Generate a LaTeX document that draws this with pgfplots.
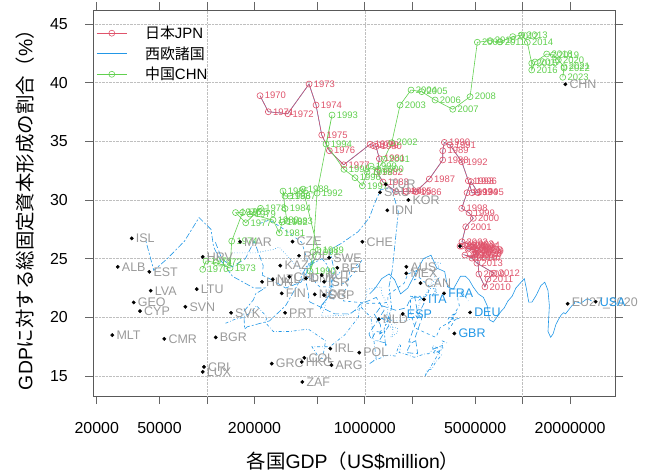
\documentclass[border=0pt]{standalone}
\usepackage{pgfplots}
\pgfplotsset{compat=1.18}
\usepackage{pgfplotstable}
\usepackage{fontspec}
\setmainfont{Liberation Sans}
\newfontfamily\cjk{Noto Sans CJK JP}
\definecolor{jpred}{HTML}{DF536B}
\definecolor{wblue}{HTML}{2297E6}
\definecolor{cngreen}{HTML}{61D04F}
\definecolor{lblgray}{HTML}{9A9A9A}

\pgfplotstableread{
x y lab
216700 38.89 1970
244600 37.52 1971
324700 37.35 1972
443100 39.88 1973
490700 38.09 1974
533200 35.54 1975
595700 34.20 1976
735000 33.00 1977
1079000 34.74 1978
1127000 34.64 1979
1178000 34.56 1980
1236000 33.52 1981
1195000 32.38 1982
1304000 31.53 1983
1576000 30.72 1984
1824000 30.72 1985
2102000 30.70 1986
2563000 31.79 1987
3116000 33.41 1988
3116000 34.20 1989
3190000 34.91 1990
3466000 34.68 1991
4112000 33.26 1992
4529000 31.64 1993
4779000 30.62 1994
5217000 30.62 1995
4710000 31.56 1996
4443000 30.62 1997
4112000 29.29 1998
4573000 28.91 1999
4869000 28.44 2000
4359000 27.72 2001
4124000 26.44 2002
4502000 26.27 2003
4914000 26.16 2004
4842000 25.99 2005
4567000 25.90 2006
4502000 25.82 2007
5132000 25.73 2008
5284000 23.69 2009
5768000 22.60 2010
6027000 23.26 2011
6579000 23.77 2012
5132000 24.62 2013
4771000 25.05 2014
4309000 25.31 2015
4986000 25.14 2016
4914000 25.31 2017
5060000 25.48 2018
5208000 25.65 2019
5060000 25.39 2020
4986000 25.73 2021
4124000 26.07 2022
4013000 26.07 2023
}\jpn

\pgfplotstableread{
x y lab
93910 24.09 1970
98560 24.80 1971
114000 24.67 1972
139900 24.20 1973
143400 26.50 1974
167900 28.93 1975
151600 28.93 1976
175900 28.06 1977
218300 29.29 1978
187300 28.80 1979
262000 28.29 1980
287200 27.21 1981
298800 28.12 1982
321400 28.21 1983
312100 29.27 1984
303100 30.76 1985
312100 30.34 1986
335700 30.34 1987
405900 30.93 1988
505200 25.73 1989
449400 23.94 1990
469500 25.56 1991
497900 30.59 1992
619700 37.24 1993
567700 34.77 1994
738100 32.61 1995
866800 31.90 1996
964100 31.21 1997
1032000 32.38 1998
1095000 32.89 1999
1213000 32.61 2000
1323000 33.47 2001
1481000 34.88 2002
1672000 38.09 2003
1963000 39.37 2004
2294000 39.23 2005
2786000 38.52 2006
3607000 37.73 2007
4643000 38.80 2008
5163000 43.44 2009
6214000 43.58 2010
7192000 43.47 2011
8655000 43.92 2012
9870000 44.06 2013
10710000 43.44 2014
11420000 41.65 2015
11420000 41.08 2016
11980000 41.76 2017
14210000 42.44 2018
15650000 42.36 2019
16840000 41.93 2020
18300000 41.36 2021
18300000 41.25 2022
17960000 40.46 2023
}\chn

\pgfplotstableread{
x y lab
33320 26.73 ISL
27180 24.31 ALB
43100 23.88 EST
43980 22.27 LVA
34320 21.27 GEO
37620 20.53 CYP
25110 18.49 MLT
53620 18.17 CMR
72870 20.90 SVN
86050 22.41 LTU
93910 25.16 HRV
113540 18.29 BGR
95720 15.78 CRI
93910 15.36 LUX
141930 20.39 SVK
161850 26.44 MAR
348200 26.46 CZE
291400 24.41 KAZ
223200 23.03 HUN
260900 23.24 NZL
332300 23.46 CHL
382800 25.25 ROU
424100 23.32 DNK
533300 23.60 AUT
551500 23.03 ISR
594300 25.08 SWE
669600 24.22 BEL
964400 26.44 CHE
297400 22.04 FIN
481600 21.96 NOR
551500 21.90 SGP
312100 20.39 PRT
604400 17.34 IRL
921600 17.00 POL
413700 16.55 COL
398300 16.21 HKG
614200 15.93 ARG
257000 16.06 GRC
401800 14.50 ZAF
1832000 24.31 AUS
1832000 23.75 MEX
2254000 22.92 CAN
1225000 19.83 NLD
19310000 21.16 EU27\_2020
1389000 29.12 IDN
1887000 30.00 KOR
1357000 31.33 TUR
1248000 30.65 SAU
18640000 39.86 CHN
}\dots

\pgfplotstableread{
x y lab
3177000 22.04 FRA
2372000 21.53 ITA
1739000 20.30 ESP
4643000 20.42 DEU
3692000 18.63 GBR
29060000 21.33 USA
}\wdots

\begin{document}
\begin{tikzpicture}
\useasboundingbox (0,0) rectangle (649bp,473bp);
\begin{axis}[
  at={(93.3bp,77bp)}, anchor=south west,
  scale only axis, width=521.7bp, height=386bp,
  xmode=log, xmin=19030, xmax=3.85e7, ymin=13.3, ymax=46.19,
  clip=false,
  axis line style={black!65, line width=0.8bp},
  tick style={black!60, line width=0.8bp},
  tick align=outside, major tick length=8bp,
  xminorticks=false,
  xtick={20000,50000,100000,200000,500000,1000000,2000000,5000000,10000000,20000000},
  xticklabels={20000,50000,,200000,,1000000,,5000000,,20000000},
  ytick={15,20,25,30,35,40,45},
  /pgf/number format/assume math mode=true,
  x tick label style={font=\fontsize{16}{16}\selectfont, yshift=-15bp},
  y tick label style={font=\fontsize{16}{16}\selectfont, xshift=-14bp},
  ymajorgrids, major grid style={densely dotted, black!25, line width=0.6bp},
  extra x ticks={100000,1000000,10000000},
  extra x tick labels={},
  extra x tick style={grid=major, major tick length=0pt},
  legend style={at={(axis description cs:0,1)}, anchor=north west, draw=none, fill=none,
    font=\fontsize{15}{15}\selectfont, row sep=2.5bp, xshift=3bp, yshift=-14bp,
    inner sep=0pt, cells={anchor=west}},
  legend image code/.code={\draw[mark repeat=2,mark phase=2,#1] plot coordinates {(0bp,0bp) (15bp,0bp) (30bp,0bp)};},
]
\addlegendimage{jpred, line width=0.6bp, mark=o, mark size=3bp}
\addlegendentry{\hspace*{16bp}{\cjk 日本}JPN}
\addlegendimage{wblue, line width=0.6bp}
\addlegendentry{\hspace*{16bp}{\cjk 西欧諸国}}
\addlegendimage{cngreen, line width=0.6bp, mark=o, mark size=3bp}
\addlegendentry{\hspace*{16bp}{\cjk 中国}CHN}

% Western countries trajectories
\addplot[forget plot, wblue, line width=0.6bp] table[x=x,y=y] {\jpn};
% USA
\addplot[forget plot, wblue, line width=0.6bp] coordinates {
(1073000,22.0)(1165000,22.5)(1279000,23.3)(1425000,23.7)(1545000,23.2)(1685000,22.0)(1873000,22.5)(2082000,23.7)(2352000,25.0)(2627000,25.3)
(2857000,24.2)(3207000,23.9)(3344000,22.6)(3634000,22.4)(4038000,23.5)(4339000,23.5)(4580000,23.2)(4855000,22.6)(5236000,22.0)(5642000,21.7)
(5963000,21.0)(6158000,19.8)(6520000,19.6)(6859000,20.0)(7287000,20.5)(7640000,20.8)(8073000,21.4)(8578000,21.8)(9063000,22.5)(9631000,22.9)
(10251000,23.3)(10582000,22.4)(10929000,21.3)(11456000,21.3)(12217000,21.9)(13039000,22.7)(13816000,23.0)(14474000,22.3)(14770000,21.0)(14478000,18.8)
(15049000,18.3)(15600000,18.6)(16254000,19.4)(16843000,19.8)(17551000,20.2)(18206000,20.4)(18695000,20.3)(19477000,20.6)(20533000,21.0)(21381000,21.2)
(21060000,21.4)(23315000,21.2)(25744000,21.6)(27361000,21.4)};
% DEU
\addplot[forget plot, wblue, line width=0.6bp, dashed] coordinates {
(216000,28.0)(249000,28.3)(300000,27.6)(398000,26.4)(446000,24.3)(489000,22.9)(519000,22.6)(600000,22.6)(740000,22.9)(882000,24.0)
(950000,24.8)(800000,23.9)(777000,22.6)(770000,22.5)(725000,22.1)(732000,21.4)(1046000,21.2)(1298000,21.2)(1402000,21.3)(1398000,21.9)
(1772000,22.9)(1877000,23.7)(2140000,24.0)(2061000,23.2)(2212000,23.4)(2587000,22.6)(2500000,21.9)(2216000,21.5)(2244000,21.6)(2196000,21.7)
(1948000,21.8)(1945000,20.5)(2080000,19.1)(2502000,18.6)(2814000,18.3)(2846000,18.4)(2994000,19.1)(3425000,19.6)(3745000,19.8)(3412000,19.0)
(3400000,19.5)(3750000,20.3)(3528000,20.0)(3733000,19.8)(3890000,19.9)(3357000,19.8)(3468000,20.1)(3690000,20.3)(3974000,21.0)(3889000,21.5)
(3887000,21.8)(4278000,21.8)(4082000,22.3)(4526000,21.4)};
% FRA
\addplot[forget plot, wblue, line width=0.6bp, dotted] coordinates {
(149000,25.5)(166000,25.5)(205000,25.5)(265000,25.8)(286000,26.0)(361000,24.5)(373000,24.4)(411000,23.6)(507000,23.0)(614000,23.1)
(702000,23.9)(615000,23.0)(585000,22.3)(560000,21.0)(531000,20.1)(554000,20.1)(772000,20.2)(935000,20.8)(1023000,21.7)(1031000,22.4)
(1270000,22.6)(1276000,22.1)(1409000,20.9)(1345000,19.5)(1411000,19.2)(1611000,19.1)(1615000,18.7)(1460000,18.3)(1511000,18.7)(1493000,19.3)
(1366000,20.3)(1382000,20.3)(1501000,19.7)(1844000,19.7)(2119000,20.2)(2197000,21.0)(2320000,21.7)(2660000,22.6)(2930000,23.3)(2700000,21.8)
(2646000,21.8)(2865000,22.3)(2683000,22.5)(2811000,22.3)(2856000,22.0)(2439000,21.9)(2472000,22.1)(2595000,22.8)(2790000,23.2)(2729000,23.8)
(2647000,23.7)(2966000,24.3)(2796000,24.7)(3052000,24.6)};
% GBR
\addplot[forget plot, wblue, line width=0.6bp, dashdotted] coordinates {
(131000,19.5)(148000,19.8)(170000,20.0)(193000,20.5)(206000,21.0)(241000,20.0)(233000,19.6)(263000,18.8)(335000,18.8)(438000,19.0)
(564000,18.0)(540000,16.5)(515000,16.5)(489000,17.0)(462000,17.5)(489000,17.5)(601000,17.5)(745000,18.5)(910000,20.0)(926000,21.0)
(1093000,20.0)(1142000,18.0)(1180000,16.5)(1062000,16.0)(1140000,16.3)(1344000,16.7)(1419000,16.8)(1560000,16.7)(1653000,17.7)(1687000,17.6)
(1665000,17.2)(1649000,17.0)(1785000,16.9)(2055000,16.6)(2422000,16.9)(2543000,16.9)(2708000,17.3)(3090000,17.6)(2929000,16.9)(2412000,15.0)
(2485000,15.5)(2664000,15.6)(2707000,15.8)(2785000,16.1)(3065000,16.8)(2934000,17.0)(2700000,17.3)(2683000,17.6)(2878000,17.4)(2857000,17.5)
(2704000,16.9)(3123000,17.3)(3089000,18.0)(3345000,17.8)};
% ITA
\addplot[forget plot, wblue, line width=0.6bp, dash pattern=on 6bp off 3bp] coordinates {
(113000,26.4)(124000,25.0)(144000,24.3)(175000,25.0)(199000,26.5)(227000,24.4)(224000,23.6)(257000,23.2)(315000,22.5)(394000,23.0)
(478000,24.9)(431000,24.4)(427000,22.8)(442000,21.8)(437000,21.6)(450000,21.3)(645000,20.3)(807000,20.3)(885000,20.7)(930000,21.1)
(1182000,21.7)(1245000,21.2)(1324000,20.6)(1062000,18.6)(1100000,18.1)(1174000,18.8)(1313000,18.7)(1241000,18.6)(1270000,18.9)(1253000,19.4)
(1146000,20.3)(1169000,20.3)(1275000,21.0)(1578000,20.6)(1806000,20.8)(1857000,21.0)(1947000,21.6)(2213000,21.8)(2408000,21.4)(2199000,20.3)
(2136000,20.4)(2294000,19.9)(2087000,18.3)(2141000,17.3)(2162000,16.9)(1836000,17.0)(1877000,17.3)(1961000,17.8)(2092000,18.0)(2011000,17.9)
(1897000,17.9)(2179000,20.1)(2067000,21.8)(2255000,21.8)};
% ESP
\addplot[forget plot, wblue, line width=0.6bp, dash pattern=on 2bp off 2bp on 6bp off 2bp] coordinates {
(41000,26.5)(46000,24.0)(56000,25.0)(72000,26.5)(89000,28.5)(106000,27.5)(110000,26.0)(120000,25.0)(145000,23.5)(198000,22.5)
(233000,22.5)(203000,22.0)(197000,21.5)(171000,20.5)(173000,19.0)(180000,19.2)(249000,19.7)(315000,21.0)(376000,22.8)(424000,24.3)
(536000,25.0)(576000,24.5)(631000,22.5)(525000,20.8)(529000,21.0)(612000,22.0)(639000,21.5)(590000,21.8)(619000,22.8)(635000,24.2)
(598000,25.8)(628000,25.9)(709000,26.3)(907000,27.3)(1069000,28.5)(1153000,29.7)(1261000,30.9)(1474000,31.0)(1631000,29.0)(1491000,24.0)
(1422000,22.6)(1480000,20.8)(1324000,19.0)(1355000,17.5)(1372000,17.8)(1196000,18.0)(1233000,18.0)(1313000,18.6)(1421000,19.3)(1394000,19.7)
(1276000,19.9)(1446000,20.0)(1418000,19.9)(1580000,19.4)};

% Japan
\addplot[forget plot, jpred, line width=0.6bp] table[x=x,y=y] {\jpn};
% China
\addplot[forget plot, cngreen, line width=0.6bp] table[x=x,y=y] {\chn};

\addplot[forget plot, only marks, mark=o, mark size=3bp, jpred, mark options={line width=0.6bp},
  point meta=explicit symbolic, nodes near coords,
  nodes near coords style={anchor=west, inner sep=0pt, xshift=4.5bp, font=\fontsize{9.5}{9.5}\selectfont, text=jpred}]
  table[x=x,y=y,meta=lab] {\jpn};
\addplot[forget plot, only marks, mark=o, mark size=3bp, cngreen, mark options={line width=0.6bp},
  point meta=explicit symbolic, nodes near coords,
  nodes near coords style={anchor=west, inner sep=0pt, xshift=4.5bp, font=\fontsize{9.5}{9.5}\selectfont, text=cngreen}]
  table[x=x,y=y,meta=lab] {\chn};

\addplot[forget plot, only marks, mark=*, mark size=1.7bp, black,
  point meta=explicit symbolic, nodes near coords,
  nodes near coords style={anchor=west, inner sep=0pt, xshift=4bp, font=\fontsize{12.5}{12.5}\selectfont, text=lblgray}]
  table[x=x,y=y,meta=lab] {\dots};
\addplot[forget plot, only marks, mark=*, mark size=1.7bp, black,
  point meta=explicit symbolic, nodes near coords,
  nodes near coords style={anchor=west, inner sep=0pt, xshift=4bp, font=\fontsize{12.5}{12.5}\selectfont, text=wblue}]
  table[x=x,y=y,meta=lab] {\wdots};
\addplot[forget plot, only marks, mark=*, mark size=1.7bp, black] coordinates {(4013000,26.07)};
\end{axis}
\node[rotate=90, font=\fontsize{19.5}{19.5}\selectfont] at (25bp,268bp) {GDP{\cjk に対する総固定資本形成の割合（}\%{\cjk ）}};
\node[font=\fontsize{19.5}{19.5}\selectfont] at (353bp,12bp) {{\cjk 各国}GDP{\cjk （}US\$million{\cjk ）}};
\end{tikzpicture}
\end{document}
